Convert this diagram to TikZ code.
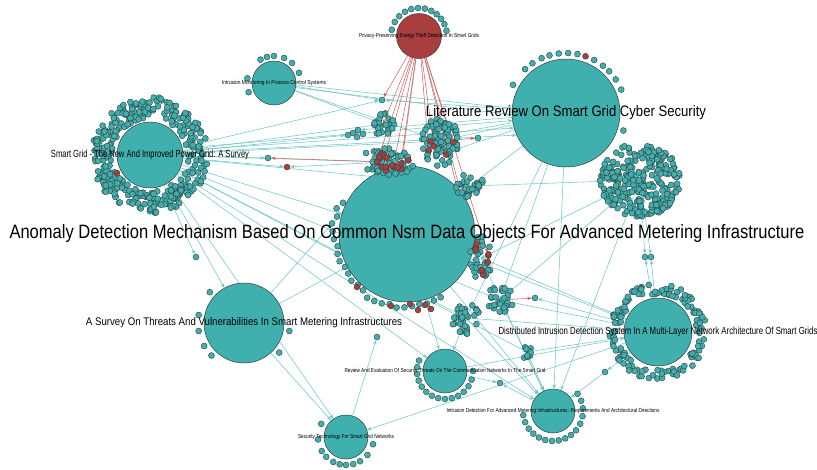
\documentclass[tikz,border=0pt]{standalone}
\usepackage{fontspec}
\setmainfont{Liberation Sans}
\usepackage{graphicx}
\usepackage{tikz}
\usetikzlibrary{arrows.meta}

\definecolor{sarcelle}{RGB}{64,176,174}
\definecolor{brique}{RGB}{168,62,62}
\definecolor{contour}{RGB}{50,62,62}
\definecolor{lienb}{RGB}{112,200,198}
\definecolor{lienrouge}{RGB}{210,100,100}

\pgfdeclarelayer{fond}
\pgfsetlayers{fond,main}

\tikzset{
  pnt/.style={circle, draw=contour, fill=sarcelle, line width=.4pt, inner sep=0pt, minimum size=6pt},
  pntr/.style={pnt, fill=brique},
  gros/.style={circle, draw=contour, fill=sarcelle, line width=.5pt, inner sep=0pt, minimum size=#1},
  lien/.style={draw=lienb, line width=.55pt, -{Stealth[length=4.5pt,width=3.5pt]}},
  lienr/.style={lien, draw=lienrouge},
  etiq/.style={inner sep=0pt, text=black}
}

% amas de points : style, nom, x, y, rayon x, rayon y, nombre
\newcommand{\amas}[7][pnt]{%
  \coordinate (#2) at (#3,#4);
  \foreach \i in {1,...,#7}{
    \pgfmathsetmacro{\angl}{360*rnd}
    \pgfmathsetmacro{\ray}{sqrt(rnd)}
    \node[#1] (#2-\i) at ({#3+#5*\ray*cos(\angl)},{#4+#6*\ray*sin(\angl)}) {};
  }}

\begin{document}
\begin{tikzpicture}[x=1pt,y=-1pt]
\useasboundingbox (0,0) rectangle (817,469);
\pgfmathsetseed{2024}

% grands noeuds
\node[gros=136pt] (ano) at (407,234) {};
\node[gros=108pt] (lit) at (566,113) {};
\node[gros=66pt] (sg) at (150,155) {};
\node[gros=80pt] (sur) at (244,323) {};
\node[gros=68pt] (dist) at (658,332) {};
\node[gros=45pt, fill=brique] (priv) at (419,36) {};
\node[gros=44pt] (im) at (274,83) {};
\node[gros=44pt] (rev) at (445,371) {};
\node[gros=44pt] (ida) at (553,411) {};
\node[gros=44pt] (sec) at (346,437) {};

% nuage autour de sg
\foreach \i in {1,...,340}{
  \pgfmathsetmacro{\angl}{360*rnd}
  \pgfmathsetmacro{\ray}{sqrt(1369+2000*rnd)}
  \node[pnt] (sg-\i) at ({150+\ray*cos(\angl)},{155+\ray*sin(\angl)}) {};
}
\node[pntr] (sg-r) at (117,173) {};

% anneau autour de dist
\foreach \i in {1,...,140}{
  \pgfmathsetmacro{\angl}{360*rnd}
  \pgfmathsetmacro{\ray}{sqrt(1444+900*rnd)}
  \node[pnt] (di-\i) at ({658+\ray*cos(\angl)},{332+\ray*sin(\angl)}) {};
}

% amas
\amas{den}{640}{180}{40}{37}{290}
\amas{ca}{383}{124}{13}{11}{24}
\amas{cb}{440}{141}{18}{26}{85}
\amas[pntr]{cbr}{440}{141}{14}{22}{5}
\amas{cc}{387}{162}{28}{14}{55}
\amas[pntr]{ccr}{390}{160}{24}{11}{16}
\amas{cd}{470}{186}{15}{12}{32}
\amas{cg}{481}{258}{11}{22}{34}
\amas[pntr]{cgr}{481}{258}{9}{18}{8}
\amas{ce}{500}{300}{14}{14}{32}
\amas{cf}{466}{318}{16}{16}{38}
\amas{ch}{527}{352}{8}{8}{10}

% points sur les bords
\foreach \a in {193,210,225,240,254,268,282,296,309,322,335,349}
  \node[pnt] (pv-\a) at ({419+28*cos(\a)},{36+28*sin(\a)}) {};
\foreach \a in {208,227,236,246,254,263,272,281,298,308,316,326,337,17}
  \node[pnt] (li-\a) at ({566+60*cos(\a)},{113+60*sin(\a)}) {};
\node[pntr] (li-r) at ({566+60*cos(289)},{113+60*sin(289)}) {};
\foreach \a in {160,190,240,255,270,292,312,338}
  \node[pnt] (im-\a) at ({274+27*cos(\a)},{83+27*sin(\a)}) {};
\foreach \a in {10,40,135,150,170,190,222}
  \node[pnt] (su-\a) at ({244+46*cos(\a)},{323+46*sin(\a)}) {};
\foreach \a in {0,18,33,48,62,76,90,104,118,132,146,160,174,188,202}
  \node[pnt] (re-\a) at ({445+28*cos(\a)},{371+28*sin(\a)}) {};
\foreach \a in {-35,-20,-5,10,25,40,53,66,79,92,105,118,131,144,158,172}
  \node[pnt] (id-\a) at ({553+30*cos(\a)},{411+30*sin(\a)}) {};
\foreach \a in {15,40,60,75,90,103,117,135,150,175,208}
  \node[pnt] (se-\a) at ({346+28*cos(\a)},{437+28*sin(\a)}) {};
\foreach \a in {62,68,...,206}{
  \pgfmathsetmacro{\ray}{73+3*rand}
  \node[pnt] (an-\a) at ({407+\ray*cos(\a)},{234+\ray*sin(\a)}) {};
}
\foreach \x/\y [count=\k] in {357/287,391/306,410/304,418/310,425/305,431/309}
  \node[pntr] (an-r\k) at (\x,\y) {};

% points isoles
\node[pnt] (p1) at (382,100) {};
\foreach \x/\y [count=\k] in {353/133,358/130,363/134,357/137,348/135}
  \node[pnt] (pa-\k) at (\x,\y) {};
\node[pnt] (p3) at (268,158) {};
\node[pntr] (p4) at (287,167) {};
\node[pnt] (p5) at (535,298) {};
\node[pnt] (p6) at (645,257) {};
\node[pnt] (p7) at (651,257) {};
\node[pnt] (p8) at (605,372) {};
\node[pnt] (p9) at (500,383) {};
\node[pnt] (p10) at (377,337) {};
\node[pnt] (p11) at (196,257) {};
\node[pnt] (p12) at (478,138) {};

% liens
\begin{pgfonlayer}{fond}
\draw[lien] (sg.12) -- (lit.188);
\draw[lien] (sg.8) -- (lit.196);
\draw[lien] (sg.4) -- (lit.204);
\foreach \b in {ca,cb,p1,pa-5,cc,p3,p4,ano,rev,ida,sec,sur,cf,ce,ch,cd,p11}
  \draw[lien] (sg) -- (\b);
\draw[lien] (im.-5) -- (lit.175);
\draw[lien] (im.-12) -- (lit.182);
\foreach \b in {p1,ca,cb}
  \draw[lien] (im) -- (\b);
\foreach \b in {ccr-1,ccr-3,ccr-5,ccr-7,ccr-9,cbr-1,cbr-2,cbr-3,cgr-1,cgr-2,cd-1,p1,ca}
  \draw[lienr] (priv) -- (\b);
\foreach \b in {p1,cb,cb-3,cb-10,cd,ce,cf,ida,pa-2}
  \draw[lien] (lit) -- (\b);
\foreach \b in {cd,p6,p7,ce,cg,ida}
  \draw[lien] (den) -- (\b);
\foreach \b in {p6,p7,ce,p5,ano,cf,ch,p8,sec,cg}
  \draw[lien] (dist) -- (\b);
\draw[lien] (p8) -- (ida);
\draw[lienr] (cb) -- (p12);
\draw[lienr] (cc) -- (p3);
\draw[lien] (cc) -- (p4);
\draw[lienr] (ce) -- (p5);
\foreach \b in {ce,cf,ch,ano,cg}
  \draw[lien] (\b) -- (ida);
\draw[lien] (cf) -- (rev);
\draw[lien] (ano) -- (rev);
\draw[lien] (rev) -- (p9);
\draw[lien] (ida) -- (p9);
\draw[lien] (rev) -- (dist);
\draw[lien] (sur) -- (sec);
\draw[lien] (sur) -- (cc);
\draw[lien] (sur) -- (ano);
\draw[lien] (sec) -- (p10);
\end{pgfonlayer}

% etiquettes
\node[etiq] (t-ano) at (ano) {\resizebox{795pt}{14pt}{Anomaly Detection Mechanism Based On Common Nsm Data Objects For Advanced Metering Infrastructure}};
\node[etiq] (t-lit) at (lit) {\resizebox{280pt}{11pt}{Literature Review On Smart Grid Cyber Security}};
\node[etiq] (t-sg) at (sg) {\resizebox{198pt}{7.5pt}{Smart Grid - The New And Improved Power Grid: A Survey}};
\node[etiq] (t-sur) at (sur) {\resizebox{316pt}{8pt}{A Survey On Threats And Vulnerabilities In Smart Metering Infrastructures}};
\node[etiq] (t-dist) at (dist) {\resizebox{319pt}{7.5pt}{Distributed Intrusion Detection System In A Multi-Layer Network Architecture Of Smart Grids}};
\node[etiq] (t-priv) at (priv) {\resizebox{120pt}{4.2pt}{Privacy-Preserving Energy Theft Detection In Smart Grids}};
\node[etiq] (t-im) at (im) {\resizebox{104pt}{4.2pt}{Intrusion Monitoring In Process Control Systems}};
\node[etiq] (t-rev) at (rev) {\resizebox{201pt}{4.2pt}{Review And Evaluation Of Security Threats On The Communication Networks In The Smart Grid}};
\node[etiq] (t-ida) at (ida) {\resizebox{213pt}{4.2pt}{Intrusion Detection For Advanced Metering Infrastructures: Requirements And Architectural Directions}};
\node[etiq] (t-sec) at (sec) {\resizebox{96pt}{4.2pt}{Security Technology For Smart Grid Networks}};
\end{tikzpicture}
\end{document}
